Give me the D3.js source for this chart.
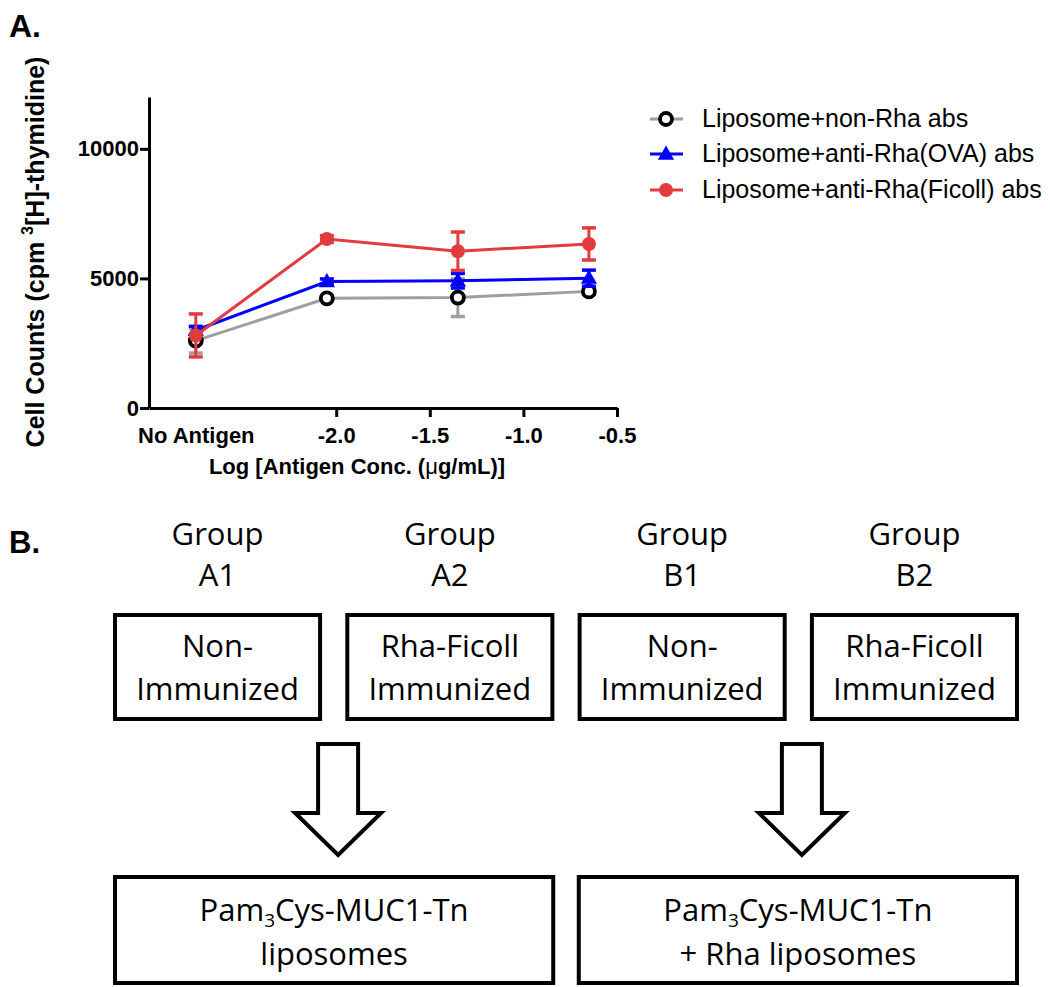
<!DOCTYPE html>
<html>
<head>
<meta charset="utf-8">
<script src="https://cdn.jsdelivr.net/npm/d3@7"></script>
<style>
  html, body { margin: 0; padding: 0; background: #fff; }
  svg { display: block; }
</style>
</head>
<body>
<div id="chart"></div>
<script>
// ---------- Panel A data ----------
const xTickValues = [-2.75, -2.0, -1.5, -1.0, -0.5];
const xTickLabels = ["No Antigen", "-2.0", "-1.5", "-1.0", "-0.5"];
const yTickValues = [0, 5000, 10000];
const xValues = [-2.75, -2.05, -1.35, -0.65];

const seriesNames = ["Liposome+non-Rha abs", "Liposome+anti-Rha(OVA) abs", "Liposome+anti-Rha(Ficoll) abs"];
const nonRhaMean = [2600, 4230, 4260, 4500];
const nonRhaErr  = [480, 100, 730, 100];
const ovaMean    = [3000, 4880, 4910, 5010];
const ovaErr     = [150, 100, 280, 310];
const ficollMean = [2800, 6520, 6050, 6330];
const ficollErr  = [830, 130, 740, 620];

// ---------- Panel B data ----------
const groupTitles = ["Group", "Group", "Group", "Group"];
const groupIds = ["A1", "A2", "B1", "B2"];
const groupBoxLines = [["Non-", "Immunized"], ["Rha-Ficoll", "Immunized"], ["Non-", "Immunized"], ["Rha-Ficoll", "Immunized"]];
const resultBoxLines = [
  [["Pam", "3", "Cys-MUC1-Tn"], ["liposomes"]],
  [["Pam", "3", "Cys-MUC1-Tn"], ["+ Rha liposomes"]]
];

const W = 1050, H = 987;
const svg = d3.select("#chart").append("svg").attr("width", W).attr("height", H);
svg.append("rect").attr("width", W).attr("height", H).attr("fill", "#fff");

const ARIAL = "'Liberation Sans', Arial, Helvetica, sans-serif";
const BODY = "'Open Sans', 'Noto Sans', sans-serif";

// Panel label
svg.append("text").attr("x", 9).attr("y", 37).attr("font-family", ARIAL)
  .attr("font-weight", "bold").attr("font-size", 32).text("A.");

// Scales
const x = d3.scaleLinear().domain([-3, -0.5]).range([149, 617]);
const y = d3.scaleLinear().domain([0, 12000]).range([408, 97]);

// Axes
const yAxis = d3.axisLeft(y).tickValues(yTickValues).tickFormat(d3.format("d"))
  .tickSize(9).tickSizeOuter(0).tickPadding(1);
const gy = svg.append("g").attr("transform", `translate(${x(-3)},0)`).call(yAxis);
gy.select(".domain").attr("stroke", "#000").attr("stroke-width", 3);
gy.selectAll(".tick line").attr("stroke", "#000").attr("stroke-width", 3);
gy.selectAll(".tick text").attr("font-family", ARIAL).attr("font-weight", "bold")
  .attr("font-size", 22).attr("fill", "#000");

const xAxis = d3.axisBottom(x).tickValues(xTickValues)
  .tickFormat((d, i) => xTickLabels[i]).tickSize(9).tickSizeOuter(0).tickPadding(10);
const gx = svg.append("g").attr("transform", `translate(0,${y(0)})`).call(xAxis);
gx.select(".domain").attr("stroke", "#000").attr("stroke-width", 3);
gx.selectAll(".tick line").attr("stroke", "#000").attr("stroke-width", 3)
  .attr("display", (d, i) => i === 0 ? "none" : null);
gx.selectAll(".tick text").attr("font-family", ARIAL).attr("font-weight", "bold")
  .attr("font-size", 22).attr("fill", "#000");

// Axis titles
const xt = svg.append("text").attr("x", 357).attr("y", 474).attr("text-anchor", "middle")
  .attr("font-family", ARIAL).attr("font-weight", "bold").attr("font-size", 22);
xt.append("tspan").text("Log [Antigen Conc. (");
xt.append("tspan").attr("font-weight", "normal").text("\u03BC");
xt.append("tspan").text("g/mL)]");

const yt = svg.append("text").attr("transform", "translate(44,252) rotate(-90)")
  .attr("text-anchor", "middle").attr("font-family", ARIAL).attr("font-weight", "bold")
  .attr("font-size", 25);
yt.append("tspan").text("Cell Counts (cpm  ");
yt.append("tspan").attr("font-size", 16).attr("dy", -11).text("3");
yt.append("tspan").attr("dy", 11).text("[H]-thymidine)");

// Series
const series = [
  { name: seriesNames[0], mean: nonRhaMean, err: nonRhaErr, color: "#9e9e9e", marker: "openCircle" },
  { name: seriesNames[1], mean: ovaMean, err: ovaErr, color: "#0000ff", marker: "triangle" },
  { name: seriesNames[2], mean: ficollMean, err: ficollErr, color: "#e23b3d", marker: "circle" }
];

const line = d3.line().x(d => x(d[0])).y(d => y(d[1]));
const triSym = d3.symbol().type(d3.symbolTriangle).size(115);

function drawMarker(g, s, cx, cy) {
  if (s.marker === "openCircle") {
    g.append("circle").attr("cx", cx).attr("cy", cy).attr("r", 6)
      .attr("fill", "#fff").attr("stroke", "#000").attr("stroke-width", 3.8);
  } else if (s.marker === "triangle") {
    g.append("path").attr("d", triSym()).attr("transform", `translate(${cx},${cy + 1})`)
      .attr("fill", s.color);
  } else {
    g.append("circle").attr("cx", cx).attr("cy", cy).attr("r", 7).attr("fill", s.color);
  }
}

series.forEach(s => {
  const g = svg.append("g");
  const pts = xValues.map((xv, i) => [xv, s.mean[i], s.err[i]]);
  pts.forEach(p => {
    const cx = x(p[0]);
    const top = y(p[1] + p[2]), bot = y(p[1] - p[2]);
    g.append("line").attr("x1", cx).attr("x2", cx).attr("y1", top).attr("y2", bot)
      .attr("stroke", s.color).attr("stroke-width", 3);
    [top, bot].forEach(v => g.append("line").attr("x1", cx - 7).attr("x2", cx + 7)
      .attr("y1", v).attr("y2", v).attr("stroke", s.color).attr("stroke-width", 3.5));
  });
  g.append("path").datum(pts).attr("d", line).attr("fill", "none")
    .attr("stroke", s.color).attr("stroke-width", 3);
  pts.forEach(p => drawMarker(g, s, x(p[0]), y(p[1])));
});

// Legend
const legendRows = [119, 154, 190];
series.forEach((s, i) => {
  const g = svg.append("g");
  const cy = legendRows[i];
  g.append("line").attr("x1", 650).attr("x2", 683).attr("y1", cy).attr("y2", cy)
    .attr("stroke", s.color).attr("stroke-width", 3);
  drawMarker(g, s, 666, cy);
  g.append("text").attr("x", 702).attr("y", cy + 8).attr("font-family", ARIAL)
    .attr("font-size", 25).attr("fill", "#000").text(s.name);
});

// ---------- Panel B ----------
svg.append("text").attr("x", 9).attr("y", 553).attr("font-family", ARIAL)
  .attr("font-weight", "bold").attr("font-size", 31).text("B.");

const boxX = d3.scaleBand().domain(groupIds).range([113, 1019]).paddingInner(0.1);
groupIds.forEach((id, i) => {
  const bx = boxX(id), bw = boxX.bandwidth(), cx = bx + bw / 2;
  svg.append("text").attr("x", cx).attr("y", 545).attr("text-anchor", "middle")
    .attr("font-family", BODY).attr("font-size", 31).text(groupTitles[i]);
  svg.append("text").attr("x", cx).attr("y", 586).attr("text-anchor", "middle")
    .attr("font-family", BODY).attr("font-size", 31).text(id);
  svg.append("rect").attr("x", bx + 2).attr("y", 615).attr("width", bw - 4).attr("height", 104)
    .attr("fill", "#fff").attr("stroke", "#000").attr("stroke-width", 4);
  groupBoxLines[i].forEach((t, j) => {
    svg.append("text").attr("x", cx).attr("y", 657 + j * 43).attr("text-anchor", "middle")
      .attr("font-family", BODY).attr("font-size", 31).text(t);
  });
});

// Arrows and result boxes
const pairX = d3.scaleBand().domain([0, 1]).range([113, 1019]).paddingInner(0.0465);
[0, 1].forEach(k => {
  const bx = pairX(k), bw = pairX.bandwidth(), cx = bx + bw / 2 + 4;
  const arrow = d3.path();
  arrow.moveTo(cx - 20, 744); arrow.lineTo(cx + 20, 744); arrow.lineTo(cx + 20, 813);
  arrow.lineTo(cx + 43, 813); arrow.lineTo(cx, 855); arrow.lineTo(cx - 43, 813);
  arrow.lineTo(cx - 20, 813); arrow.closePath();
  svg.append("path").attr("d", arrow.toString()).attr("fill", "#fff")
    .attr("stroke", "#000").attr("stroke-width", 4).attr("stroke-linejoin", "miter");
  svg.append("rect").attr("x", bx + 2).attr("y", 877).attr("width", bw - 4).attr("height", 106)
    .attr("fill", "#fff").attr("stroke", "#000").attr("stroke-width", 4);
  const tcx = bx + bw / 2;
  const l1 = svg.append("text").attr("x", tcx).attr("y", 921).attr("text-anchor", "middle")
    .attr("font-family", BODY).attr("font-size", 31);
  l1.append("tspan").text(resultBoxLines[k][0][0]);
  l1.append("tspan").attr("font-size", 19).attr("dy", 6).text(resultBoxLines[k][0][1]);
  l1.append("tspan").attr("dy", -6).text(resultBoxLines[k][0][2]);
  svg.append("text").attr("x", tcx).attr("y", 965).attr("text-anchor", "middle")
    .attr("font-family", BODY).attr("font-size", 31).text(resultBoxLines[k][1][0]);
});
</script>
</body>
</html>
